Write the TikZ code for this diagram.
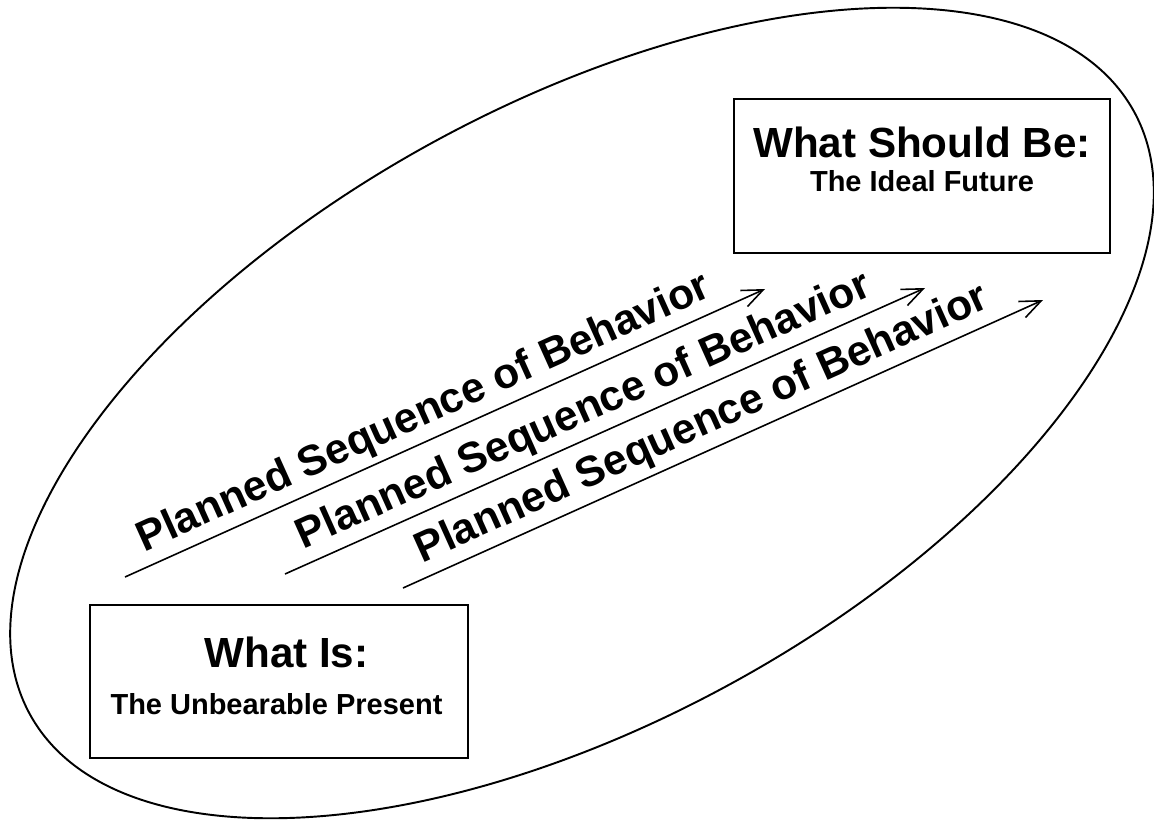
\documentclass[tikz,border=0pt]{standalone}
\usepackage{fontspec}
\setmainfont{Liberation Sans}
\usetikzlibrary{arrows.meta}
\usetikzlibrary{positioning}

\begin{document}
\begin{tikzpicture}[x=0.02cm, y=-0.02cm,
    box/.style={draw, line width=1.1pt, inner sep=0pt},
    head/.style={anchor=base, inner sep=0pt, font=\fontsize{24}{28}\selectfont\bfseries},
    sub/.style={anchor=base, inner sep=0pt, font=\fontsize{16.5}{20}\selectfont\bfseries},
    plan/.style={line width=0.9pt, -{Straight Barb[length=12pt,width=10pt]}},
    planlabel/.style={sloped, above, pos=0.484, inner sep=3pt, font=\fontsize{24.2}{28}\selectfont\bfseries}]

    \useasboundingbox (0,0) rectangle (1154,819);

    % the ellipse round everything
    \draw[line width=1.1pt, rotate around={28.6:(582,413)}] (582,413) ellipse [x radius=629, y radius=309];

    \node[box, minimum width=7.52cm, minimum height=3.08cm] (ideal) at (922,176) {};
    \node[head] (idealhead) at ([yshift=-1.18cm]ideal.north) {What Should Be:};
    \node[sub] (idealsub) at ([yshift=-1.86cm]ideal.north) {The Ideal Future};

    \node[box, minimum width=7.56cm, minimum height=3.06cm] (present) at (279,681.5) {};
    \node[head] (presenthead) at ([xshift=0.15cm, yshift=-1.26cm]present.north) {What Is:};
    \node[sub] (presentsub) at ([xshift=-0.05cm, yshift=-2.2cm]present.north) {The Unbearable Present};

    \coordinate (s1) at (125,577);
    \coordinate (e1) at (765,289);
    \coordinate (s2) at (285,574);
    \coordinate (e2) at (925,288);
    \coordinate (s3) at (403,588);
    \coordinate (e3) at (1043,300);

    \draw[plan] (s1) -- node[planlabel] {Planned Sequence of Behavior} (e1);
    \draw[plan] (s2) -- node[planlabel] {Planned Sequence of Behavior} (e2);
    \draw[plan] (s3) -- node[planlabel] {Planned Sequence of Behavior} (e3);

\end{tikzpicture}
\end{document}
